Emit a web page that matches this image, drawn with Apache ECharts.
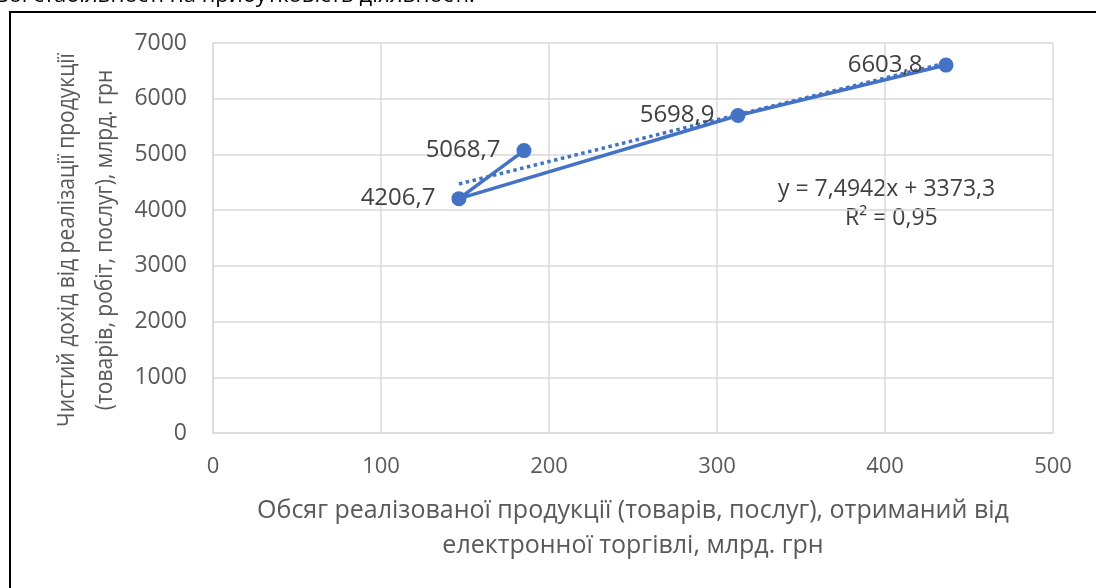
<!DOCTYPE html>
<html><head><meta charset="utf-8">
<script src="https://cdn.jsdelivr.net/npm/echarts@6/dist/echarts.min.js"></script>
<style>html,body{margin:0;padding:0;background:#fff;}#c{width:1096px;height:588px;}</style>
</head><body><div id="c"></div>
<script>
var salesX = [185.1, 146.4, 312.5, 436.3];
var incomeY = [5068.7, 4206.7, 5698.9, 6603.8];
var pointLabels = ['5068,7', '4206,7', '5698,9', '6603,8'];
var trendX = [146.4, 436.3];
var trendY = [4470, 6643];
var xTicks = [0, 100, 200, 300, 400, 500];
var yTicks = [0, 1000, 2000, 3000, 4000, 5000, 6000, 7000];
var equationText = 'y = 7,4942x + 3373,3';
var r2Text = 'R² = 0,95';
var xTitle = 'Обсяг реалізованої продукції (товарів, послуг), отриманий від\nелектронної торгівлі, млрд. грн';
var yTitle = 'Чистий дохід від реалізації продукції\n(товарів, робіт, послуг), млрд. грн';
var topText = 'вої стабільності на прибутковість діяльності.';

var FONT = 'Open Sans';
var chart = echarts.init(document.getElementById('c'));
var mainData = salesX.map(function (x, i) { return [x, incomeY[i]]; });
var trendData = trendX.map(function (x, i) { return [x, trendY[i]]; });
chart.setOption({
  animation: false,
  textStyle: { fontFamily: FONT },
  grid: { left: 213, right: 43, top: 43, bottom: 155 },
  xAxis: {
    type: 'value', min: xTicks[0], max: xTicks[xTicks.length - 1], interval: 100,
    axisLine: { show: true, lineStyle: { color: '#d9d9d9', width: 1.5 } },
    axisTick: { show: false },
    splitLine: { show: true, lineStyle: { color: '#d9d9d9', width: 1.5 } },
    axisLabel: { color: '#595959', fontSize: 22, fontFamily: FONT, margin: 23,
      formatter: function (v) { return String(v); } },
    name: xTitle, nameLocation: 'middle', nameGap: 60, nameMoveOverlap: false,
    nameTextStyle: { color: '#595959', fontSize: 25, fontFamily: FONT, lineHeight: 35, padding: 0, verticalAlign: 'top' }
  },
  yAxis: {
    type: 'value', min: yTicks[0], max: yTicks[yTicks.length - 1], interval: 1000,
    axisLine: { show: true, lineStyle: { color: '#d9d9d9', width: 1.5 } },
    axisTick: { show: false },
    splitLine: { show: true, lineStyle: { color: '#d9d9d9', width: 1.5 } },
    axisLabel: { color: '#595959', fontSize: 23, fontFamily: FONT, margin: 26,
      formatter: function (v) { return String(v); } }
  },
  series: [
    {
      type: 'line', data: trendData, symbol: 'none', silent: true,
      lineStyle: { color: '#4472C4', width: 3.5, type: 'dotted' }, z: 2
    },
    {
      type: 'line', data: mainData, symbol: 'circle', symbolSize: 15,
      itemStyle: { color: '#4472C4' },
      lineStyle: { color: '#4472C4', width: 3.5 },
      label: {
        show: true, position: 'left', distance: 16,
        color: '#404040', fontSize: 24, fontFamily: FONT,
        formatter: function (p) { return pointLabels[p.dataIndex]; }
      },
      z: 3
    }
  ],
  graphic: [
    { type: 'text', x: 86, y: 240, rotation: Math.PI / 2, scaleX: 0.875,
      style: { text: yTitle, fill: '#595959', font: '24px "' + FONT + '"', lineHeight: 38, align: 'center', verticalAlign: 'middle' } },
    { type: 'text', left: 778, top: 178, style: { text: equationText, fill: '#404040', font: '23px "' + FONT + '"' } },
    { type: 'text', left: 845, top: 207, style: { text: r2Text, fill: '#404040', font: '23px "' + FONT + '"' } },
    { type: 'text', left: -4, top: -15, style: { text: topText, fill: '#000', font: '22px "' + FONT + '"' } },
    { type: 'rect', shape: { x: 10, y: 12, width: 1100, height: 600 }, style: { fill: 'none', stroke: '#000', lineWidth: 2 } }
  ]
});
</script></body></html>
